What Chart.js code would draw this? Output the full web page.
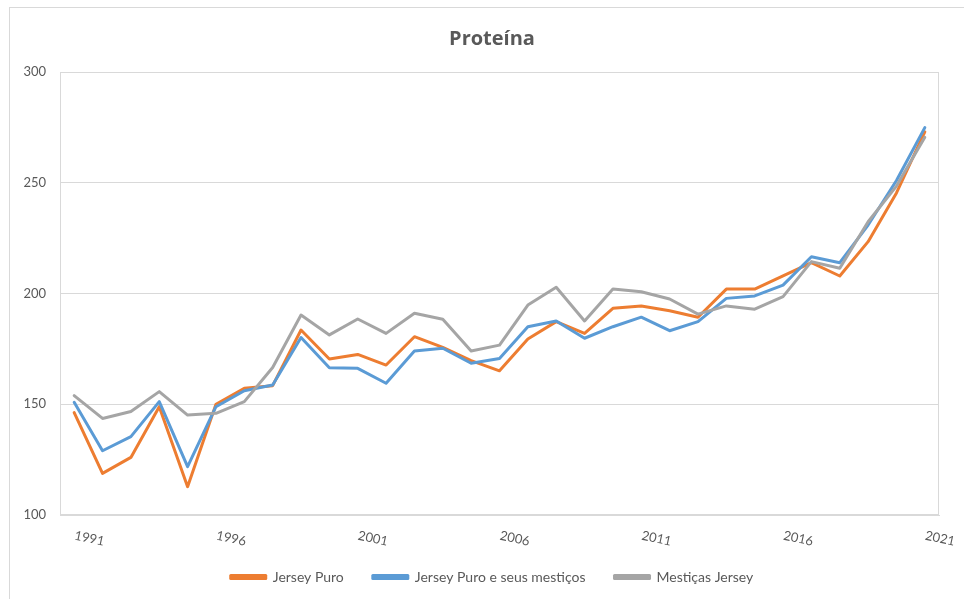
<!DOCTYPE html>
<html>
<head>
<meta charset="utf-8">
<script src="https://cdn.jsdelivr.net/npm/chart.js@4"></script>
<style>
  html, body { margin: 0; padding: 0; overflow: hidden; background: #fff; }
  #frame { position: absolute; left: 9px; top: 7px; width: 1000px; height: 700px; border: 1px solid #d9d9d9; }
  #wrap { position: absolute; left: 0; top: 0; width: 964px; height: 599px; }
</style>
</head>
<body>
<div id="frame"></div>
<div id="wrap"><canvas id="c" width="964" height="599"></canvas></div>
<script>
const years = [1991,1992,1993,1994,1995,1996,1997,1998,1999,2000,2001,2002,2003,2004,2005,2006,2007,2008,2009,2010,2011,2012,2013,2014,2015,2016,2017,2018,2019,2020,2021];
const jerseyPuro = [146.2,118.8,126.0,148.9,112.8,150.0,157.2,158.4,183.5,170.4,172.5,167.7,180.5,175.7,169.7,165.1,179.5,187.3,182.0,193.3,194.4,192.2,189.3,202.0,202.0,208.0,213.9,207.9,223.4,245.4,273.0];
const jerseyMesticos = [150.9,129.0,135.4,151.2,121.8,148.9,156.1,158.7,180.1,166.5,166.2,159.5,174.0,175.3,168.5,170.7,185.0,187.6,179.8,185.0,189.3,183.2,187.3,197.8,198.9,203.8,216.6,213.9,230.9,251.0,274.9];
const mesticasJersey = [153.9,143.6,146.7,155.7,145.1,145.9,151.2,166.6,190.3,181.3,188.5,182.0,191.1,188.4,174.0,176.7,194.8,202.8,187.6,202.0,200.8,197.5,190.7,194.4,192.9,198.6,214.4,211.4,232.4,248.5,270.5];
const seriesNames = ['Jersey Puro', 'Jersey Puro e seus mestiços', 'Mestiças Jersey'];
const yTicks = [100, 150, 200, 250, 300];
const labelEvery = 5;

const TXT = '#595959';
const GRID = '#d9d9d9';
const FONT = 'Lato';

const frameBox = {
  id: 'frameBox',
  beforeDatasetsDraw(chart) {
    const a = chart.chartArea, ctx = chart.ctx;
    ctx.save();
    ctx.strokeStyle = GRID;
    ctx.lineWidth = 1;
    ctx.strokeRect(Math.round(a.left) + 0.5, Math.round(a.top) + 0.5, Math.round(a.right - a.left) - 1, Math.round(a.bottom - a.top) - 1);
    ctx.restore();
  }
};

function ds(label, data, color, order) {
  return { label, data, borderColor: color, backgroundColor: color, borderWidth: 3, pointRadius: 0, pointHoverRadius: 0, tension: 0, fill: false, order, borderJoinStyle: 'round', borderCapStyle: 'round' };
}

new Chart(document.getElementById('c'), {
  type: 'line',
  data: {
    labels: years.map(String),
    datasets: [
      ds(seriesNames[0], jerseyPuro, '#ED7D31', 3),
      ds(seriesNames[1], jerseyMesticos, '#5B9BD5', 2),
      ds(seriesNames[2], mesticasJersey, '#A5A5A5', 1)
    ]
  },
  options: {
    responsive: false,
    animation: false,
    layout: { padding: { left: 20, right: 0, top: 0, bottom: 5 } },
    plugins: {
      title: {
        display: true, text: 'Proteína', color: TXT,
        font: { family: 'Open Sans', size: 20, weight: 'bold' },
        padding: { top: 27, bottom: 21 }
      },
      legend: {
        position: 'bottom',
        title: { display: true, text: ' ', font: { size: 10 }, padding: { top: -30, bottom: 0 } },
        labels: {
          color: TXT, font: { family: FONT, size: 14 },
          boxWidth: 35, boxHeight: 3, padding: 29,
          sort: (a, b) => a.datasetIndex - b.datasetIndex
        }
      },
      tooltip: { enabled: false }
    },
    scales: {
      x: {
        offset: true,
        grid: { display: false, drawTicks: false },
        border: { display: true, color: GRID },
        ticks: {
          autoSkip: false, minRotation: -12, maxRotation: -12,
          labelOffset: 30, padding: 19,
          color: TXT, font: { family: FONT, size: 13 },
          callback: function(v, i) { return (years[i] - years[0]) % labelEvery === 0 ? String(years[i]) : ''; }
        },
        afterFit(s) { s.height = 44; }
      },
      y: {
        min: yTicks[0], max: yTicks[yTicks.length - 1],
        afterBuildTicks(s) { s.ticks = yTicks.map(v => ({ value: v })); },
        grid: { color: GRID, drawTicks: false },
        border: { display: true, color: GRID },
        ticks: { color: TXT, font: { family: FONT, size: 13 }, padding: 14 },
        afterFit(s) { s.width = 40; }
      },
      y2: {
        position: 'right', display: true,
        grid: { display: false, drawTicks: false },
        border: { display: false },
        ticks: { display: false },
        afterFit(s) { s.width = 25; }
      }
    }
  },
  plugins: [frameBox]
});
</script>
</body>
</html>
